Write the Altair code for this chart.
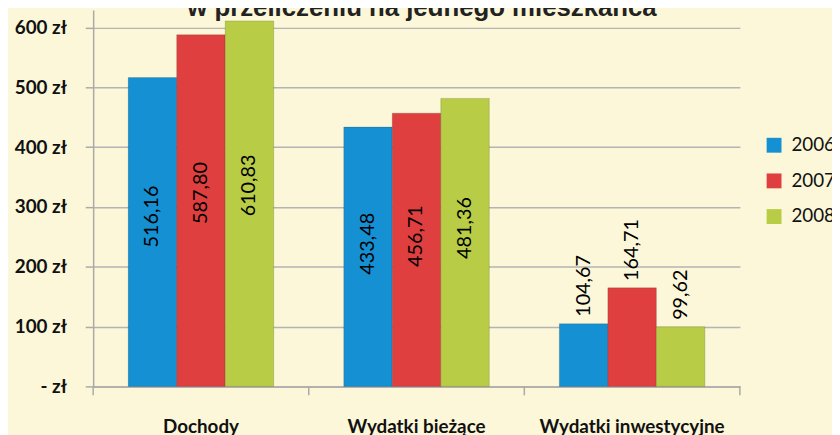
import altair as alt
import pandas as pd

categories = ["Dochody", "Wydatki bieżące", "Wydatki inwestycyjne"]
years = ["2006", "2007", "2008"]
v2006 = [516.16, 433.48, 104.67]
v2007 = [587.80, 456.71, 164.71]
v2008 = [610.83, 481.36, 99.62]
colors = ["#1590d3", "#e03f3f", "#b9cc45"]
y_ticks = [0, 100, 200, 300, 400, 500, 600]
boundaries = [0, 1, 2, 3]
title_text = "w przeliczeniu na jednego mieszkańca"

rows = []
for yr, vals in zip(years, [v2006, v2007, v2008]):
    for c, v in zip(categories, vals):
        rows.append({"cat": c, "year": yr, "value": v,
                     "label": f"{v:.2f}".replace(".", ",")})
df = pd.DataFrame(rows)

GRAY = "#aaaaaa"
FONT = "Lato"

x_enc = alt.X("cat:N", sort=categories,
              scale=alt.Scale(paddingInner=0.325, paddingOuter=0.1625),
              axis=alt.Axis(title=None, labelAngle=0, ticks=False, labelPadding=32,
                            labelFont=FONT, labelFontSize=19, labelFontWeight="bold",
                            labelColor="#111111", domainColor=GRAY, domainWidth=1.5,
                            grid=False, labelLimit=400))
xoff = alt.XOffset("year:N", sort=years, scale=alt.Scale(paddingInner=0, paddingOuter=0))
y_scale = alt.Scale(domain=[0, 629], nice=False, zero=True)

base = alt.Chart(df)

bars = base.mark_bar(stroke="#000000", strokeOpacity=0.15, strokeWidth=1).encode(
    x=x_enc,
    xOffset=xoff,
    y=alt.Y("value:Q", scale=y_scale,
            axis=alt.Axis(title=None, values=y_ticks,
                          labelExpr="datum.value == 0 ? '- zł' : datum.value + ' zł'",
                          labelFont=FONT, labelFontSize=19, labelFontWeight="bold",
                          labelColor="#111111", labelPadding=19,
                          tickSize=8, tickColor=GRAY, tickWidth=1.5,
                          domainColor=GRAY, domainWidth=1.5,
                          gridColor="#b4b4b4", gridWidth=1.5)),
    color=alt.Color("year:N", sort=years,
                    scale=alt.Scale(domain=years, range=colors),
                    legend=alt.Legend(title=None, orient="none", legendX=678, legendY=127,
                                      symbolType="square", symbolSize=225,
                                      symbolStrokeWidth=0, symbolOpacity=1,
                                      labelFont=FONT, labelFontSize=19,
                                      labelColor="#111111", labelOffset=8,
                                      rowPadding=16)),
)

text_in = base.transform_filter(
    alt.datum.cat != "Wydatki inwestycyjne"
).transform_calculate(
    lab_y="datum.value * 0.55"
).mark_text(angle=270, align="center", baseline="middle", font=FONT,
            fontSize=20, color="#000000").encode(
    x=alt.X("cat:N", sort=categories),
    xOffset=xoff,
    y=alt.Y("lab_y:Q", scale=y_scale),
    text="label:N",
)

text_out = base.transform_filter(
    alt.datum.cat == "Wydatki inwestycyjne"
).mark_text(angle=270, align="left", baseline="middle", dx=7, font=FONT,
            fontSize=20, color="#000000").encode(
    x=alt.X("cat:N", sort=categories),
    xOffset=xoff,
    y=alt.Y("value:Q", scale=y_scale),
    text="label:N",
)

main = alt.layer(bars, text_in, text_out)

ticks = alt.Chart(pd.DataFrame({"b": boundaries})).mark_rule(
    color=GRAY, strokeWidth=1.5
).encode(
    x=alt.X("b:Q", scale=alt.Scale(domain=[0, 3], nice=False, zero=False), axis=None),
    y=alt.value(380), y2=alt.value(389),
)

title = alt.Chart(pd.DataFrame({"t": [title_text]})).mark_text(
    font="Liberation Sans", fontSize=26, fontWeight="bold", color="#222222",
    align="center", baseline="alphabetic"
).encode(text="t:N", x=alt.value(332), y=alt.value(6))

chart = alt.layer(main, ticks, title).resolve_scale(
    x="independent"
).properties(
    width=653, height=380,
    padding={"left": 86, "top": 0, "right": 93, "bottom": 47},
    autosize=alt.AutoSizeParams(type="none"),
    background="#fbf7d8",
).configure_view(stroke=None)

chart.save("out.html", embed_options={"renderer": "svg", "actions": False})
